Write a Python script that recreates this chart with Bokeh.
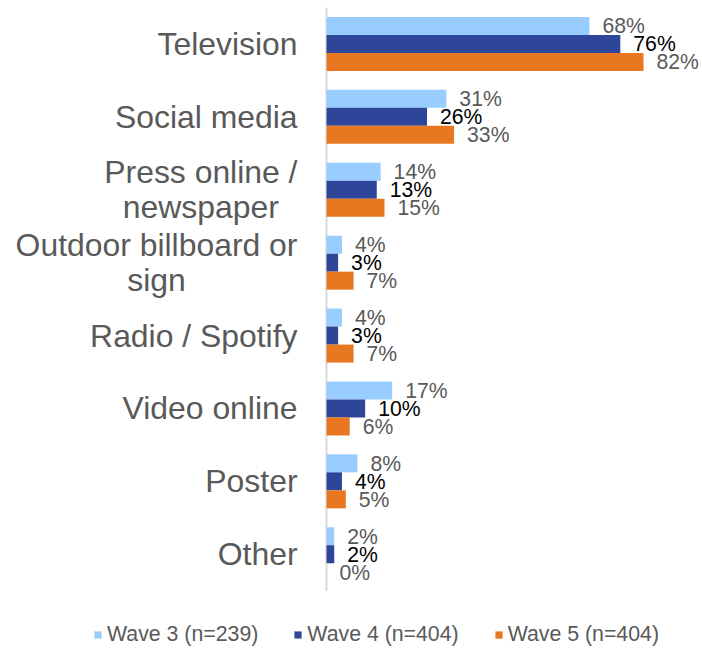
from bokeh.plotting import figure
from bokeh.models import ColumnDataSource, Legend, LegendItem, Range1d
from bokeh.transform import dodge
from bokeh.embed import file_html
from bokeh.resources import INLINE
from bokeh.core.properties import value

categories = ["Television", "Social media", "Press online /\nnewspaper",
              "Outdoor billboard or\nsign", "Radio / Spotify", "Video online",
              "Poster", "Other"]
wave3 = [68, 31, 14, 4, 4, 17, 8, 2]
wave4 = [76, 26, 13, 3, 3, 10, 4, 2]
wave5 = [82, 33, 15, 7, 7, 6, 5, 0]
series_names = ["Wave 3 (n=239)", "Wave 4 (n=404)", "Wave 5 (n=404)"]
colors = ["#99CCFF", "#2E4699", "#E87722"]
label_colors = ["#595959", "#000000", "#595959"]

FONT = "Liberation Sans"
W, H = 700, 648
AXIS_PX = 326          # pixel position of the value axis (0 %)
PX_PER_PCT = 3.866
TOP_PX, BAND_PX = 7, 72.9
CAT_FS = 31.9
LINE_GAP = 35

# Arial / Liberation Sans advance widths (per em) for centring wrapped labels
ADV = {" ": .278, "/": .278, "P": .667, "r": .333, "e": .556, "s": .5, "o": .556,
       "n": .556, "l": .222, "i": .222, "w": .722, "p": .556, "a": .556, "O": .778,
       "u": .556, "t": .278, "d": .556, "b": .556, "g": .556}

def text_w(s):
    return sum(ADV.get(c, .556) for c in s) * CAT_FS

n = len(categories)
ypos = list(range(n))

source = ColumnDataSource(dict(
    y=ypos, w3=wave3, w4=wave4, w5=wave5,
    l3=[f"{v}%" for v in wave3],
    l4=[f"{v}%" for v in wave4],
    l5=[f"{v}%" for v in wave5],
))

# category labels (single lines right aligned, wrapped lines centred on their block)
lt, ly, lx, lyo, la = [], [], [], [], []
for i, c in enumerate(categories):
    lines = c.split("\n")
    if len(lines) == 1:
        lt.append(c); ly.append(i); lx.append(-29); lyo.append(0); la.append("right")
    else:
        bw = max(text_w(s) for s in lines)
        for k, s in enumerate(lines):
            lt.append(s); ly.append(i); lx.append(-29 - bw / 2)
            lyo.append((k - (len(lines) - 1) / 2) * LINE_GAP); la.append("center")
cat_src = ColumnDataSource(dict(t=lt, y=ly, xo=lx, yo=lyo, a=la, x=[0] * len(lt)))

p = figure(
    width=W, height=H,
    x_range=Range1d(-AXIS_PX / PX_PER_PCT, (W - AXIS_PX) / PX_PER_PCT),
    y_range=Range1d(-0.5 + (H - TOP_PX) / BAND_PX, -0.5 - TOP_PX / BAND_PX),
    x_axis_location=None, y_axis_location=None,
    output_backend="svg", toolbar_location=None,
    min_border=0,
)
p.outline_line_color = None
p.xgrid.visible = False
p.ygrid.visible = False

p.text(x="x", y="y", text="t", x_offset="xo", y_offset="yo", text_align="a",
       text_baseline="middle", text_font=value(FONT), text_font_size=f"{CAT_FS}px",
       text_color="#595959", text_line_height=1.1, source=cat_src)

# value axis line
p.segment(x0=0, x1=0, y0=-0.5, y1=n - 0.5, line_color="#D9D9D9", line_width=2)

bh = 0.247
offsets = [-bh, 0, bh]
cols = ["w3", "w4", "w5"]
labs = ["l3", "l4", "l5"]
renderers = []
for i in range(3):
    r = p.hbar(y=dodge("y", offsets[i]), left=0, right=cols[i],
               height=bh, fill_color=colors[i], line_color=None, source=source)
    renderers.append(r)
    p.text(x=cols[i], y=dodge("y", offsets[i]), text=labs[i],
           x_offset=13, text_baseline="middle", text_align="left",
           text_font=value(FONT), text_font_size="21.2px",
           text_color=label_colors[i], source=source)

legend = Legend(
    items=[LegendItem(label=series_names[i], renderers=[renderers[i]]) for i in range(3)],
    orientation="horizontal", location=(93, 1),
    glyph_width=9, glyph_height=9, label_standoff=5, spacing=35,
    padding=0, margin=0, label_height=22,
    label_text_font=FONT, label_text_font_size="21.3px", label_text_color="#595959",
    border_line_color=None, background_fill_alpha=0,
)
p.add_layout(legend, "center")

open("out.html", "w").write(file_html(p, INLINE))
